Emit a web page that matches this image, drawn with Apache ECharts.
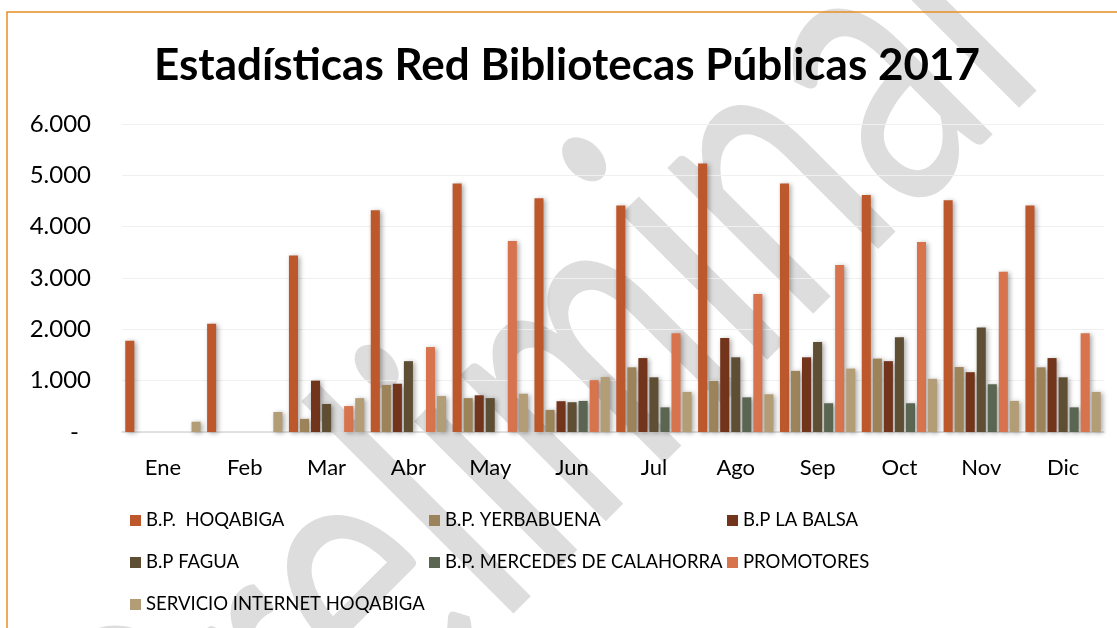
<!DOCTYPE html>
<html>
<head>
<meta charset="utf-8">
<script src="https://cdn.jsdelivr.net/npm/echarts@6/dist/echarts.min.js"></script>
<style>
  html, body { margin: 0; padding: 0; background: #fff; }
  #chart { width: 1117px; height: 628px; }
</style>
</head>
<body>
<div id="chart"></div>
<script>
// Monthly attendance per library of the public library network, 2017
const months = ['Ene', 'Feb', 'Mar', 'Abr', 'May', 'Jun', 'Jul', 'Ago', 'Sep', 'Oct', 'Nov', 'Dic'];

const hoqabiga   = [1780, 2110, 3440, 4320, 4840, 4555, 4410, 5230, 4840, 4615, 4515, 4410];
const yerbabuena = [0, 0, 255, 915, 660, 430, 1260, 995, 1190, 1430, 1265, 1260];
const laBalsa    = [0, 0, 1000, 940, 715, 600, 1440, 1830, 1455, 1380, 1165, 1440];
const fagua      = [0, 0, 545, 1380, 660, 580, 1065, 1455, 1755, 1845, 2035, 1065];
const mercedes   = [0, 0, 0, 0, 0, 605, 480, 675, 560, 560, 930, 480];
const promotores = [0, 0, 505, 1655, 3720, 1010, 1925, 2690, 3255, 3700, 3120, 1925];
const internet   = [200, 390, 660, 700, 745, 1070, 780, 735, 1235, 1035, 605, 780];

const yTickLabels = ['-', '1.000', '2.000', '3.000', '4.000', '5.000', '6.000'];

const seriesDefs = [
  { name: 'B.P.  HOQABIGA', data: hoqabiga, color: '#BC582C' },
  { name: 'B.P. YERBABUENA', data: yerbabuena, color: '#9C8359' },
  { name: 'B.P LA BALSA', data: laBalsa, color: '#72341B' },
  { name: 'B.P FAGUA', data: fagua, color: '#5E4F34' },
  { name: 'B.P. MERCEDES DE CALAHORRA', data: mercedes, color: '#5A6552' },
  { name: 'PROMOTORES', data: promotores, color: '#D7744D' },
  { name: 'SERVICIO INTERNET HOQABIGA', data: internet, color: '#B39D76' }
];

const FONT = 'Lato, "Open Sans", sans-serif';

// ---- draft watermark: a tall, stretched word laid at 45 degrees ----
const WM_TEXT = 'Preliminar';
const wmLayout = (function () {
  const ctx = document.createElement('canvas').getContext('2d');
  ctx.font = '100px ' + FONT;
  const w = function (s) { return ctx.measureText(s).width / 100; };
  const rGlyph = ctx.measureText('r');
  // centre of the second "i" stem and of the final "r" stem, in em units
  const iStem = w('Prelim') + w('i') / 2;
  const rStem = w('Prelimina') - rGlyph.actualBoundingBoxLeft / 100 + 0.048;
  const em = 357 / (rStem - iStem);
  ctx.font = em + 'px ' + FONT;
  const xHeight = ctx.measureText('x').actualBoundingBoxAscent;
  ctx.textBaseline = 'middle';
  const midToBase = ctx.measureText('x').actualBoundingBoxDescent;
  const stretch = 210 / xHeight;
  const c = Math.SQRT1_2;
  // foot of the second "i" stem on the baseline
  const footX = 776, footY = 351;
  const ox = footX - iStem * em * c;
  const oy = footY + iStem * em * c;
  return {
    fontSize: em,
    stretch: stretch,
    x: ox - midToBase * stretch * c,
    y: oy - midToBase * stretch * c
  };
})();

const legendBase = {
  orient: 'vertical',
  top: 510,
  padding: 0,
  itemWidth: 11,
  itemHeight: 11,
  itemGap: 21,
  icon: 'rect',
  selectedMode: false,
  itemStyle: { shadowBlur: 0, shadowOffsetX: 0, shadowOffsetY: 0, shadowColor: 'rgba(0,0,0,0)' },
  textStyle: { fontFamily: FONT, fontSize: 18.5, color: '#000', lineHeight: 21 }
};

const chart = echarts.init(document.getElementById('chart'), null, { renderer: 'canvas' });

chart.setOption({
  animation: false,
  backgroundColor: '#fff',
  title: {
    text: 'Estadísticas Red Bibliotecas Públicas 2017',
    left: 567,
    textAlign: 'center',
    top: 44,
    padding: 0,
    textStyle: { fontFamily: FONT, fontWeight: 'bold', fontSize: 44, color: '#000' }
  },
  graphic: [
    {
      type: 'text',
      z: -10,
      silent: true,
      x: wmLayout.x,
      y: wmLayout.y,
      rotation: Math.PI / 4,
      scaleX: 1,
      scaleY: wmLayout.stretch,
      style: {
        text: WM_TEXT,
        fontFamily: FONT,
        fontSize: wmLayout.fontSize,
        fill: '#dddddd',
        align: 'left',
        verticalAlign: 'middle'
      }
    },
    {
      type: 'rect',
      silent: true,
      shape: { x: 7, y: 12, width: 1300, height: 800 },
      style: { fill: 'none', stroke: '#E98E26', lineWidth: 1.5 }
    }
  ],
  legend: [
    Object.assign({}, legendBase, { left: 130, data: ['B.P.  HOQABIGA', 'B.P FAGUA', 'SERVICIO INTERNET HOQABIGA'] }),
    Object.assign({}, legendBase, { left: 429, data: ['B.P. YERBABUENA', 'B.P. MERCEDES DE CALAHORRA'] }),
    Object.assign({}, legendBase, { left: 727, data: ['B.P LA BALSA', 'PROMOTORES'] })
  ],
  grid: { left: 122, right: 13, top: 124, bottom: 196, containLabel: false },
  xAxis: {
    type: 'category',
    data: months,
    axisTick: { show: false },
    axisLine: { lineStyle: { color: '#d9d9d9', width: 1.5 } },
    axisLabel: { fontFamily: FONT, fontSize: 22, color: '#000', margin: 25 }
  },
  yAxis: {
    type: 'value',
    min: 0,
    max: 6000,
    interval: 1000,
    axisLine: { show: false },
    axisTick: { show: false },
    splitLine: { lineStyle: { color: '#f0f0f0', width: 1 } },
    axisLabel: {
      fontFamily: FONT,
      fontSize: 24,
      color: '#000',
      margin: 31,
      formatter: function (v) {
        const label = yTickLabels[Math.round(v / 1000)];
        return v === 0 ? '{dash|' + label + '}' : label;
      },
      rich: {
        dash: { fontFamily: FONT, fontSize: 24, color: '#000', padding: [0, 12, 0, 0] }
      }
    }
  },
  series: seriesDefs.map(function (s) {
    return {
      type: 'bar',
      name: s.name,
      data: s.data,
      barGap: '22%',
      barCategoryGap: '8%',
      itemStyle: {
        color: s.color,
        shadowColor: 'rgba(0,0,0,0.35)',
        shadowBlur: 5,
        shadowOffsetX: 2,
        shadowOffsetY: 1
      }
    };
  })
});
</script>
</body>
</html>
